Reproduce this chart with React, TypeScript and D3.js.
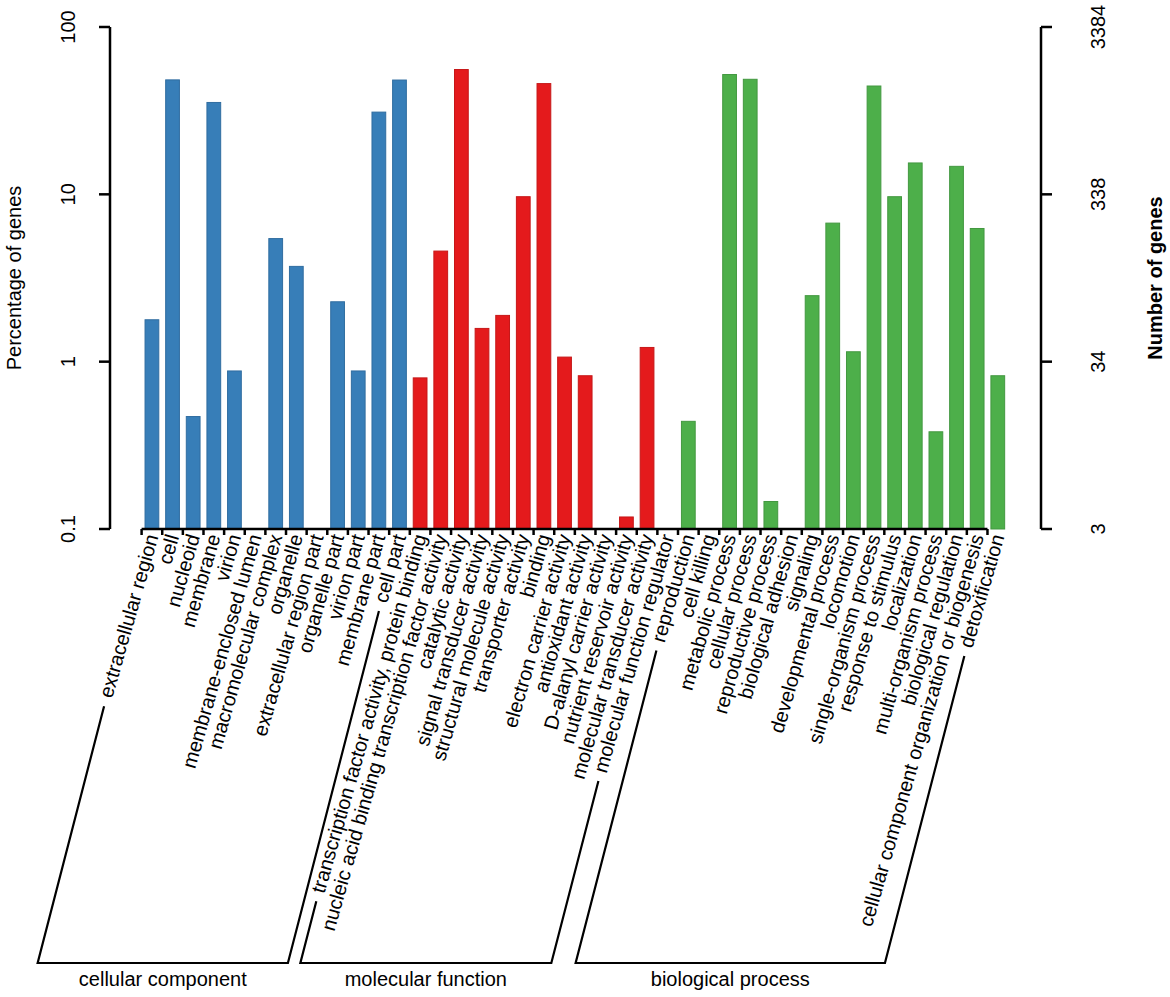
import React, { useRef, useEffect } from 'react';
import * as d3 from 'd3';

// GO terms and percentage of genes (log axis)
const ccTerms = [
  'extracellular region', 'cell', 'nucleoid', 'membrane', 'virion',
  'membrane-enclosed lumen', 'macromolecular complex', 'organelle',
  'extracellular region part', 'organelle part', 'virion part',
  'membrane part', 'cell part',
];
const ccValues = [1.78, 48.3, 0.47, 35.4, 0.88, 0.03, 5.44, 3.71, 0.03, 2.28, 0.88, 31.0, 48.2];

const mfTerms = [
  'transcription factor activity, protein binding',
  'nucleic acid binding transcription factor activity',
  'catalytic activity', 'signal transducer activity',
  'structural molecule activity', 'transporter activity', 'binding',
  'electron carrier activity', 'antioxidant activity',
  'D-alanyl carrier activity', 'nutrient reservoir activity',
  'molecular transducer activity', 'molecular function regulator',
];
const mfValues = [0.8, 4.58, 55.7, 1.58, 1.89, 9.68, 45.9, 1.065, 0.824, 0.03, 0.118, 1.216, 0.03];

const bpTerms = [
  'reproduction', 'cell killing', 'metabolic process', 'cellular process',
  'reproductive process', 'biological adhesion', 'signaling',
  'developmental process', 'locomotion', 'single-organism process',
  'response to stimulus', 'localization', 'multi-organism process',
  'biological regulation', 'cellular component organization or biogenesis',
  'detoxification',
];
const bpValues = [0.44, 0.03, 52.0, 48.7, 0.146, 0.03, 2.48, 6.73, 1.146, 44.4, 9.68, 15.4, 0.381, 14.7, 6.25, 0.824];

const groupNames = ['cellular component', 'molecular function', 'biological process'];
const groupColors = ['#377EB8', '#E41A1C', '#4DAF4A'];

const leftTicks = [0.1, 1, 10, 100];
const leftTickLabels = ['0.1', '1', '10', '100'];
const rightTickLabels = ['3', '34', '338', '3384'];

const WIDTH = 1170;
const HEIGHT = 997;
const FONT = '"Liberation Sans", Arial, Helvetica, sans-serif';

const GOChart: React.FC = () => {
  const svgRef = useRef<SVGSVGElement | null>(null);

  useEffect(() => {
    if (!svgRef.current) return;
    const svg = d3.select(svgRef.current);
    svg.selectAll('*').remove();

    const groups = [
      { terms: ccTerms, values: ccValues },
      { terms: mfTerms, values: mfValues },
      { terms: bpTerms, values: bpValues },
    ];
    const data = groups.flatMap((g, gi) =>
      g.terms.map((t, i) => ({ term: t, value: g.values[i], group: gi }))
    );

    const x = d3.scaleBand<string>()
      .domain(data.map(d => d.term))
      .range([141.6, 1008.1])
      .paddingInner(1 / 3)
      .paddingOuter(1 / 6);

    const y = d3.scaleLog().domain([0.1, 100]).range([529, 27]);
    const yBase = y(0.1);

    // bars
    svg.append('g')
      .selectAll('rect')
      .data(data.filter(d => d.value > 0.1))
      .enter()
      .append('rect')
      .attr('x', d => x(d.term) as number)
      .attr('width', x.bandwidth())
      .attr('y', d => y(d.value))
      .attr('height', d => yBase - y(d.value))
      .attr('fill', d => groupColors[d.group])
      .attr('stroke', d => d3.color(groupColors[d.group])!.darker(0.4).toString())
      .attr('stroke-width', 1);

    // left axis
    const left = svg.append('g').attr('stroke', '#000').attr('stroke-width', 2.5).attr('fill', 'none');
    left.append('line').attr('x1', 110).attr('x2', 110).attr('y1', y(100)).attr('y2', y(0.1));
    leftTicks.forEach(t => {
      left.append('line').attr('x1', 99).attr('x2', 110).attr('y1', y(t)).attr('y2', y(t));
    });
    leftTicks.forEach((t, i) => {
      svg.append('text')
        .attr('transform', `translate(68,${y(t)}) rotate(-90)`)
        .attr('text-anchor', 'middle')
        .attr('dy', '0.35em')
        .attr('font-family', FONT)
        .attr('font-size', 20)
        .text(leftTickLabels[i]);
    });
    svg.append('text')
      .attr('transform', `translate(14,${(y(100) + y(0.1)) / 2}) rotate(-90)`)
      .attr('text-anchor', 'middle')
      .attr('dy', '0.35em')
      .attr('font-family', FONT)
      .attr('font-size', 20)
      .text('Percentage of genes');

    // right axis
    const right = svg.append('g').attr('stroke', '#000').attr('stroke-width', 2.5).attr('fill', 'none');
    right.append('line').attr('x1', 1041).attr('x2', 1041).attr('y1', y(100)).attr('y2', y(0.1));
    leftTicks.forEach(t => {
      right.append('line').attr('x1', 1041).attr('x2', 1052).attr('y1', y(t)).attr('y2', y(t));
    });
    leftTicks.forEach((t, i) => {
      svg.append('text')
        .attr('transform', `translate(1098,${y(t)}) rotate(-90)`)
        .attr('text-anchor', 'middle')
        .attr('dy', '0.35em')
        .attr('font-family', FONT)
        .attr('font-size', 20)
        .text(rightTickLabels[i]);
    });
    svg.append('text')
      .attr('transform', `translate(1155,${(y(100) + y(0.1)) / 2}) rotate(-90)`)
      .attr('text-anchor', 'middle')
      .attr('dy', '0.35em')
      .attr('font-family', FONT)
      .attr('font-size', 20)
      .attr('font-weight', 'bold')
      .text('Number of genes');

    // bottom axis with ticks at slot boundaries
    const step = x.step();
    const x0 = x.range()[0];
    const bottom = svg.append('g').attr('stroke', '#000').attr('stroke-width', 2.5).attr('fill', 'none');
    bottom.append('line')
      .attr('x1', x0).attr('x2', x0 + (data.length - 1) * step)
      .attr('y1', yBase).attr('y2', yBase);
    data.forEach((_, i) => {
      bottom.append('line')
        .attr('x1', x0 + i * step).attr('x2', x0 + i * step)
        .attr('y1', yBase).attr('y2', yBase + 6);
    });

    // rotated term labels
    const textAngle = 74;
    const lineAngle = 75.5;
    const ta = (textAngle * Math.PI) / 180;
    const la = (lineAngle * Math.PI) / 180;
    const labelY = 535;
    const labelStart: { x: number; y: number }[] = [];
    data.forEach(d => {
      const ax = (x(d.term) as number) + x.bandwidth() / 2 + 1;
      const node = svg.append('text')
        .attr('transform', `translate(${ax},${labelY}) rotate(${-textAngle})`)
        .attr('text-anchor', 'end')
        .attr('dy', '0.3em')
        .attr('font-family', FONT)
        .attr('font-size', 20)
        .text(d.term)
        .node() as SVGTextElement;
      const len = node.getComputedTextLength();
      labelStart.push({ x: ax - len * Math.cos(ta), y: labelY + len * Math.sin(ta) });
    });

    // group brackets
    const bracketY = 963;
    const gap = 9;
    const lineFrom = (p: { x: number; y: number }) => {
      const top = { x: p.x - gap * Math.cos(la), y: p.y + gap * Math.sin(la) };
      const bx = top.x - (bracketY - top.y) / Math.tan(la);
      return { top, bx };
    };
    let offset = 0;
    groups.forEach((g, gi) => {
      const first = lineFrom(labelStart[offset]);
      const last = lineFrom(labelStart[offset + g.terms.length - 1]);
      offset += g.terms.length;
      svg.append('path')
        .attr('d', `M${first.top.x},${first.top.y}L${first.bx},${bracketY}L${last.bx},${bracketY}L${last.top.x},${last.top.y}`)
        .attr('fill', 'none')
        .attr('stroke', '#000')
        .attr('stroke-width', 2.2)
        .attr('stroke-linejoin', 'miter');
      svg.append('text')
        .attr('x', (first.bx + last.bx) / 2)
        .attr('y', 986)
        .attr('text-anchor', 'middle')
        .attr('font-family', FONT)
        .attr('font-size', 20)
        .text(groupNames[gi]);
    });
  }, []);

  return (
    <svg
      ref={svgRef}
      width={WIDTH}
      height={HEIGHT}
      style={{ position: 'absolute', left: 0, top: 0, background: '#fff' }}
    />
  );
};

export default function App() {
  return <GOChart />;
}
